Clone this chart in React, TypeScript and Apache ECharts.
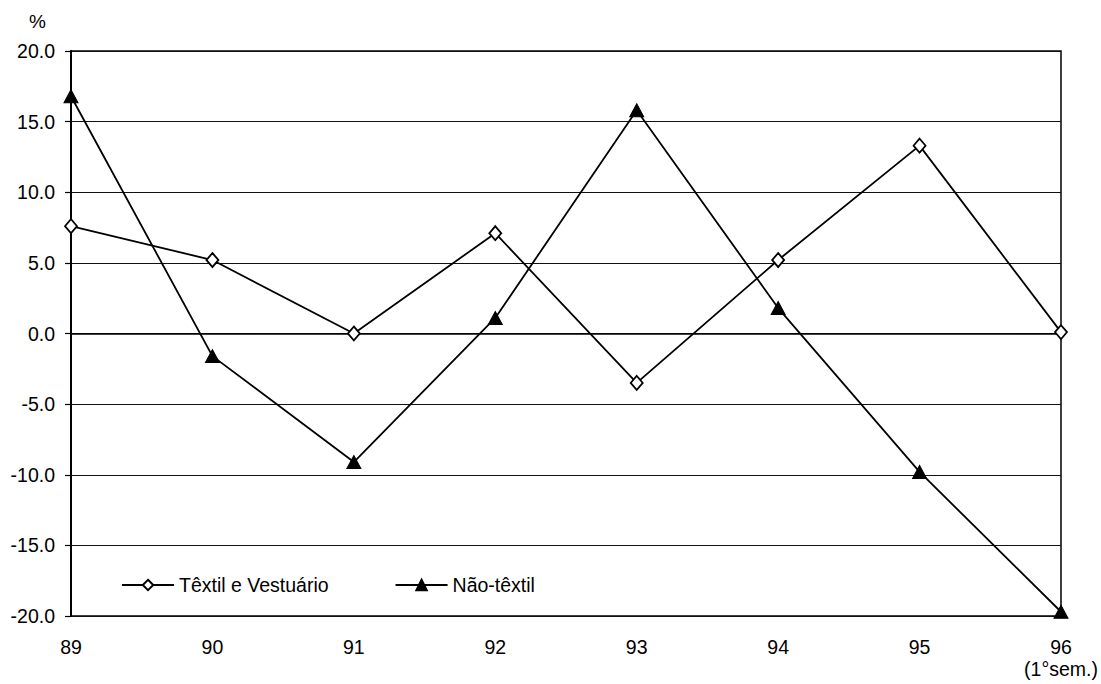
import React, { useEffect, useRef } from "react";
import * as echarts from "echarts";

const categories = ["89", "90", "91", "92", "93", "94", "95", "96\n(1°sem.)"];
const textilVestuario = [7.6, 5.2, 0.0, 7.1, -3.5, 5.2, 13.3, 0.1];
const naoTextil = [16.8, -1.6, -9.1, 1.1, 15.8, 1.8, -9.8, -19.7];
const seriesNames = ["Têxtil e Vestuário", "Não-têxtil"];
const unitLabel = "%";

const FONT = "'Liberation Sans', Arial, sans-serif";

export default function App() {
  const ref = useRef<HTMLDivElement>(null);
  useEffect(() => {
    if (!ref.current) return;
    const chart = echarts.init(ref.current, null, { renderer: "svg" });
    chart.setOption({
      animation: false,
      backgroundColor: "#ffffff",
      textStyle: { fontFamily: FONT, color: "#000" },
      grid: {
        left: 71,
        right: 40,
        top: 51,
        bottom: 68,
        show: true,
        borderColor: "#000",
        borderWidth: 1.5,
        backgroundColor: "transparent",
      },
      graphic: [
        {
          type: "text",
          left: 29,
          top: 12,
          style: { text: unitLabel, font: `19px ${FONT}`, fill: "#000" },
        },
      ],
      legend: {
        left: 116,
        top: 570,
        itemWidth: 52,
        itemHeight: 13,
        itemGap: 66,
        textStyle: { fontFamily: FONT, fontSize: 19.5, color: "#000" },
        data: seriesNames,
      },
      xAxis: {
        type: "category",
        data: categories,
        boundaryGap: false,
        axisLine: { show: true, lineStyle: { color: "#000", width: 1.5 } },
        axisTick: { show: false },
        splitLine: { show: false },
        axisLabel: {
          color: "#000",
          fontFamily: FONT,
          fontSize: 19.5,
          margin: 20,
          lineHeight: 22,
          interval: 0,
        },
      },
      yAxis: {
        type: "value",
        min: -20,
        max: 20,
        interval: 5,
        axisLine: { show: true, lineStyle: { color: "#000", width: 2 } },
        axisTick: { show: true, length: 6, inside: false, lineStyle: { color: "#000", width: 1.2 } },
        splitLine: { show: true, lineStyle: { color: "#111", width: 1.2 } },
        axisLabel: {
          color: "#000",
          fontFamily: FONT,
          fontSize: 19.5,
          margin: 16,
          formatter: (v: number) => v.toFixed(1),
        },
      },
      series: [
        {
          name: seriesNames[0],
          type: "line",
          data: textilVestuario,
          symbol: "diamond",
          symbolSize: [12, 14],
          lineStyle: { color: "#000", width: 1.8 },
          itemStyle: { color: "#fff", borderColor: "#000", borderWidth: 1.8 },
          z: 3,
        },
        {
          name: seriesNames[1],
          type: "line",
          data: naoTextil,
          symbol: "triangle",
          symbolSize: [14, 13],
          lineStyle: { color: "#000", width: 1.8 },
          itemStyle: { color: "#000", borderColor: "#000", borderWidth: 1 },
          z: 4,
        },
      ],
    });
    return () => chart.dispose();
  }, []);
  return (
    <div
      ref={ref}
      style={{ position: "fixed", left: 0, top: 0, width: 1101, height: 684, overflow: "visible" }}
    />
  );
}
